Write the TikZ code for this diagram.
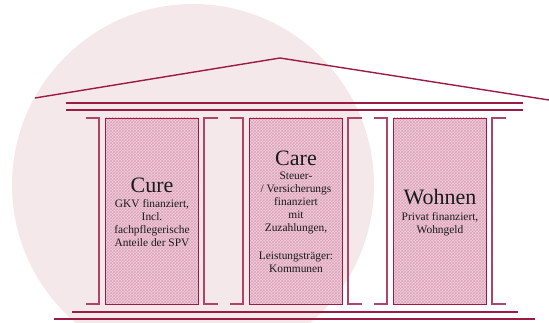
\documentclass[tikz,border=0pt]{standalone}
\usepackage{fontspec}
\setmainfont{Liberation Serif}
\usetikzlibrary{patterns}
\definecolor{wine}{HTML}{9B1B45}
\definecolor{bracketc}{HTML}{AE4468}
\definecolor{circlec}{HTML}{F5E8EA}
\definecolor{boxfill}{HTML}{EED2DC}
\definecolor{hatchc}{HTML}{E0A2BA}
\definecolor{txt}{HTML}{1A1A1A}
\tikzset{
  line/.style={draw=wine, line width=1.4pt},
  bracket/.style={draw=bracketc, line width=1.5pt},
  hatch/.style={pattern=crosshatch, pattern color=hatchc},
  title/.style={font=\fontsize{22}{24}\selectfont, text=txt, anchor=base, inner sep=0pt},
  sub/.style={font=\fontsize{11.4}{13}\selectfont, text=txt, align=center, anchor=north, inner sep=0pt},
}
\begin{document}
\begin{tikzpicture}[x=1pt, y=-1pt]
\useasboundingbox (0,0) rectangle (549,323);
% background circle
\begin{scope}
\clip (0,0) rectangle (549,323);
\fill[circlec] (193,185) circle[radius=181];
\end{scope}
% roof
\coordinate (rl) at (35,98);
\coordinate (ra) at (280,58);
\coordinate (rr) at (549,100);
\draw[line] (rl) -- (ra) -- (rr);
% entablature lines
\coordinate (e1l) at (66,103); \coordinate (e1r) at (523,103);
\coordinate (e2l) at (66,110); \coordinate (e2r) at (523,110);
\draw[line] (e1l) -- (e1r);
\draw[line] (e2l) -- (e2r);
% base lines
\coordinate (b1l) at (72,312); \coordinate (b1r) at (518,312);
\coordinate (b2l) at (54,319); \coordinate (b2r) at (535,319);
\draw[line] (b1l) -- (b1r);
\draw[line] (b2l) -- (b2r);
% pillars
\foreach \i/\x in {1/105, 2/249, 3/393} {
  \fill[boxfill] (\x,118) rectangle ++(93,186);
  \fill[hatch] (\x,118) rectangle ++(93,186);
  \draw[draw=wine, line width=0.9pt] (\x,118) rectangle ++(93,186);
  \draw[bracket] (\x-19,118) -- (\x-6,118) -- (\x-6,304) -- (\x-19,304);
  \draw[bracket] (\x+113,118) -- (\x+99,118) -- (\x+99,304) -- (\x+113,304);
}
% texts
\node[title] (cure) at (152,193) {Cure};
\node[sub] (curet) at (152,199.5) {GKV finanziert,\\Incl.\\fachpflegerische\\Anteile der SPV};
\node[title] (care) at (296,166) {Care};
\node[sub] (caret) at (296,171.5) {Steuer-\\/ Versicherungs\\finanziert\\mit\\Zuzahlungen,\\[15pt]Leistungsträger:\\Kommunen};
\node[title] (wohnen) at (440,205) {Wohnen};
\node[sub] (wohnent) at (440,212.5) {Privat finanziert,\\Wohngeld};
\end{tikzpicture}
\end{document}
